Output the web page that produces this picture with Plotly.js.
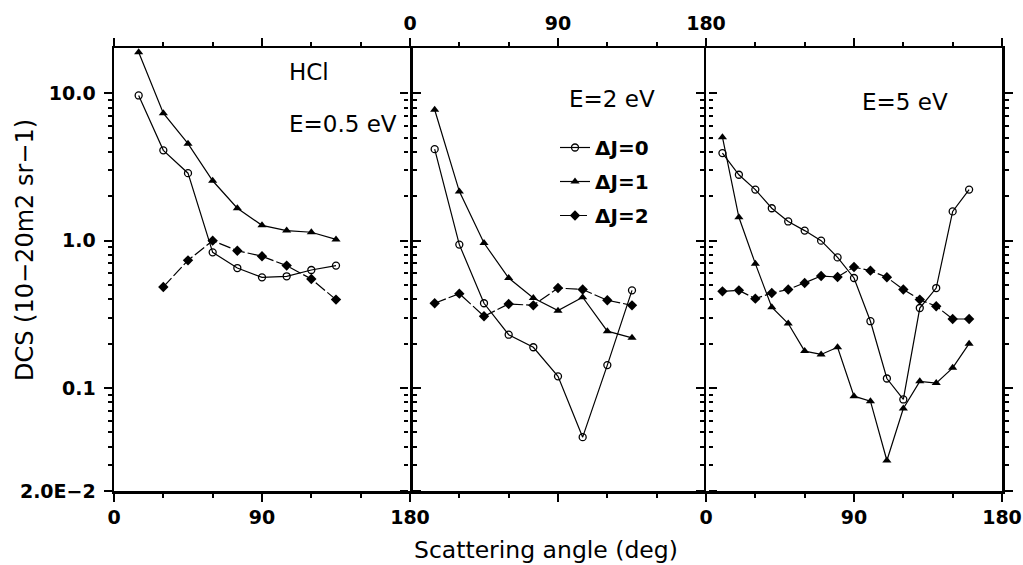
<!DOCTYPE html>
<html>
<head>
<meta charset="utf-8">
<script src="https://cdn.plot.ly/plotly-3.0.1.min.js"></script>
<style>html,body{margin:0;padding:0;background:#fff;}#chart{width:1023px;height:565px;}</style>
</head>
<body>
<div id="chart"></div>
<script>
// ---- data ----
const angles05 = [15, 30, 45, 60, 75, 90, 105, 120, 135];
const angles05dj2 = [30, 45, 60, 75, 90, 105, 120, 135];
const dj0_E05 = [9.67, 4.10, 2.87, 0.833, 0.652, 0.564, 0.573, 0.632, 0.677];
const dj1_E05 = [19.0, 7.33, 4.55, 2.55, 1.66, 1.27, 1.17, 1.14, 1.02];
const dj2_E05 = [0.485, 0.735, 1.00, 0.855, 0.783, 0.677, 0.549, 0.398];

const angles2 = [15, 30, 45, 60, 75, 90, 105, 120, 135];
const dj0_E2 = [4.18, 0.94, 0.376, 0.230, 0.189, 0.120, 0.0464, 0.143, 0.46];
const dj1_E2 = [7.73, 2.16, 0.963, 0.558, 0.408, 0.335, 0.413, 0.243, 0.219];
const dj2_E2 = [0.376, 0.437, 0.307, 0.372, 0.364, 0.477, 0.466, 0.394, 0.364];

const angles5 = [10, 20, 30, 40, 50, 60, 70, 80, 90, 100, 110, 120, 130, 140, 150, 160];
const dj0_E5 = [3.93, 2.80, 2.22, 1.66, 1.35, 1.17, 1.00, 0.77, 0.558, 0.284, 0.116, 0.0836, 0.349, 0.477, 1.58, 2.22];
const dj1_E5 = [5.04, 1.44, 0.698, 0.353, 0.274, 0.178, 0.169, 0.189, 0.088, 0.0814, 0.0322, 0.0726, 0.111, 0.108, 0.137, 0.200];
const dj2_E5 = [0.453, 0.460, 0.404, 0.441, 0.466, 0.516, 0.575, 0.567, 0.662, 0.626, 0.564, 0.466, 0.398, 0.359, 0.294, 0.294];

const seriesNames = ['\u0394J=0', '\u0394J=1', '\u0394J=2'];
const panelLabels = ['E=0.5 eV', 'E=2 eV', 'E=5 eV'];
const yTickVals = [0.02, 0.1, 1, 10];
const yTickText = ['2.0E\u22122', '0.1', '1.0', '10.0'];
const yMinorVals = [0.03,0.04,0.05,0.06,0.07,0.08,0.09,0.2,0.3,0.4,0.5,0.6,0.7,0.8,0.9,2,3,4,5,6,7,8,9];
const xTickVals = [0, 90, 180];
const xMinorVals = [30, 60, 120, 150];

// ---- layout geometry ----
const W = 1023, H = 565;
const L = 114, R = 21, T = 48, B = 74;
const pw = W - L - R, ph = H - T - B;
const px = x => (x - L) / pw;
const py = y => (H - B - y) / ph;
const FONT = 'DejaVu Sans, Liberation Sans, Arial, sans-serif';

const styles = [
  {marker: {symbol: 'circle-open', size: 7, color: '#000', line: {width: 1.3}}, line: {color: '#000', width: 1.2}},
  {marker: {symbol: 'triangle-up', size: 8, color: '#000'}, line: {color: '#000', width: 1.2}},
  {marker: {symbol: 'diamond', size: 8, color: '#000'}, line: {color: '#000', width: 1.2, dash: '12px,3px'}}
];

const panels = [
  {xs: [angles05, angles05, angles05dj2], ys: [dj0_E05, dj1_E05, dj2_E05]},
  {xs: [angles2, angles2, angles2], ys: [dj0_E2, dj1_E2, dj2_E2]},
  {xs: [angles5, angles5, angles5], ys: [dj0_E5, dj1_E5, dj2_E5]}
];

const traces = [];
panels.forEach((p, pi) => {
  for (let s = 0; s < 3; s++) {
    traces.push({
      type: 'scatter', mode: 'lines+markers',
      x: p.xs[s], y: p.ys[s],
      xaxis: pi === 0 ? 'x' : 'x' + (pi + 1),
      yaxis: pi === 0 ? 'y' : 'y' + (pi + 1),
      name: seriesNames[s],
      legendgroup: 'g' + s,
      showlegend: pi === 1,
      marker: styles[s].marker, line: styles[s].line,
      cliponaxis: false
    });
  }
});

const tickFont = {family: FONT, size: 19, color: '#000', weight: 'bold'};
function xaxis(i, side, labels) {
  return {
    domain: [i / 3, (i + 1) / 3], anchor: i === 0 ? 'y' : 'y' + (i + 1),
    range: [0, 180], side: side,
    showline: true, linewidth: 2.5, linecolor: '#000', mirror: 'ticks',
    ticks: 'outside', ticklen: 8, tickwidth: 2, tickcolor: '#000',
    tickmode: 'array', tickvals: xTickVals, ticktext: xTickVals.map(String),
    showticklabels: labels, tickfont: tickFont,
    minor: {tickmode: 'array', tickvals: xMinorVals, ticks: 'outside', ticklen: 4, tickwidth: 2, tickcolor: '#000'},
    showgrid: false, zeroline: false, fixedrange: true
  };
}
function yaxis(i) {
  const a = {
    type: 'log', range: [Math.log10(0.02), Math.log10(20.3)],
    anchor: i === 0 ? 'x' : 'x' + (i + 1),
    showline: true, linewidth: 2.5, linecolor: i === 1 ? 'rgba(0,0,0,0)' : '#000', mirror: 'ticks',
    ticks: 'outside', ticklen: 8, tickwidth: 2, tickcolor: '#000',
    tickmode: 'array', tickvals: yTickVals, ticktext: yTickText,
    showticklabels: i === 0, tickfont: tickFont, ticklabelstandoff: 4,
    minor: {tickmode: 'array', tickvals: yMinorVals, ticks: 'outside', ticklen: 4, tickwidth: 2, tickcolor: '#000'},
    showgrid: false, zeroline: false, fixedrange: true
  };
  if (i > 0) a.matches = 'y';
  return a;
}

const annFont = {family: FONT, size: 23, color: '#000'};
const layout = {
  width: W, height: H,
  margin: {l: L, r: R, t: T, b: B, pad: 0},
  paper_bgcolor: '#fff', plot_bgcolor: '#fff',
  showlegend: true,
  legend: {
    x: px(555), y: py(128), xanchor: 'left', yanchor: 'top',
    bgcolor: 'rgba(0,0,0,0)', borderwidth: 0,
    font: {family: FONT, size: 20, color: '#000', weight: 'bold'},
    tracegroupgap: 5, itemwidth: 30
  },
  xaxis: xaxis(0, 'bottom', true),
  xaxis2: xaxis(1, 'top', true),
  xaxis3: xaxis(2, 'bottom', true),
  yaxis: yaxis(0), yaxis2: yaxis(1), yaxis3: yaxis(2),
  annotations: [
    {text: 'HCl', xref: 'paper', yref: 'paper', x: px(309), y: py(72), xanchor: 'center', yanchor: 'middle', showarrow: false, font: annFont},
    {text: panelLabels[0], xref: 'paper', yref: 'paper', x: px(287), y: py(124), xanchor: 'left', yanchor: 'middle', showarrow: false, font: annFont},
    {text: panelLabels[1], xref: 'paper', yref: 'paper', x: px(612), y: py(99), xanchor: 'center', yanchor: 'middle', showarrow: false, font: annFont},
    {text: panelLabels[2], xref: 'paper', yref: 'paper', x: px(905), y: py(102), xanchor: 'center', yanchor: 'middle', showarrow: false, font: annFont},
    {text: 'Scattering angle (deg)', xref: 'paper', yref: 'paper', x: px(546), y: py(550), xanchor: 'center', yanchor: 'middle', showarrow: false, font: {family: FONT, size: 23.5, color: '#000'}},
    {text: 'DCS (10\u221220m2 sr\u22121)', xref: 'paper', yref: 'paper', x: px(25), y: py(250), xanchor: 'center', yanchor: 'middle', textangle: -90, showarrow: false, font: {family: FONT, size: 24, color: '#000'}}
  ]
};

Plotly.newPlot('chart', traces, layout, {staticPlot: true, displayModeBar: false});
</script>
</body>
</html>
